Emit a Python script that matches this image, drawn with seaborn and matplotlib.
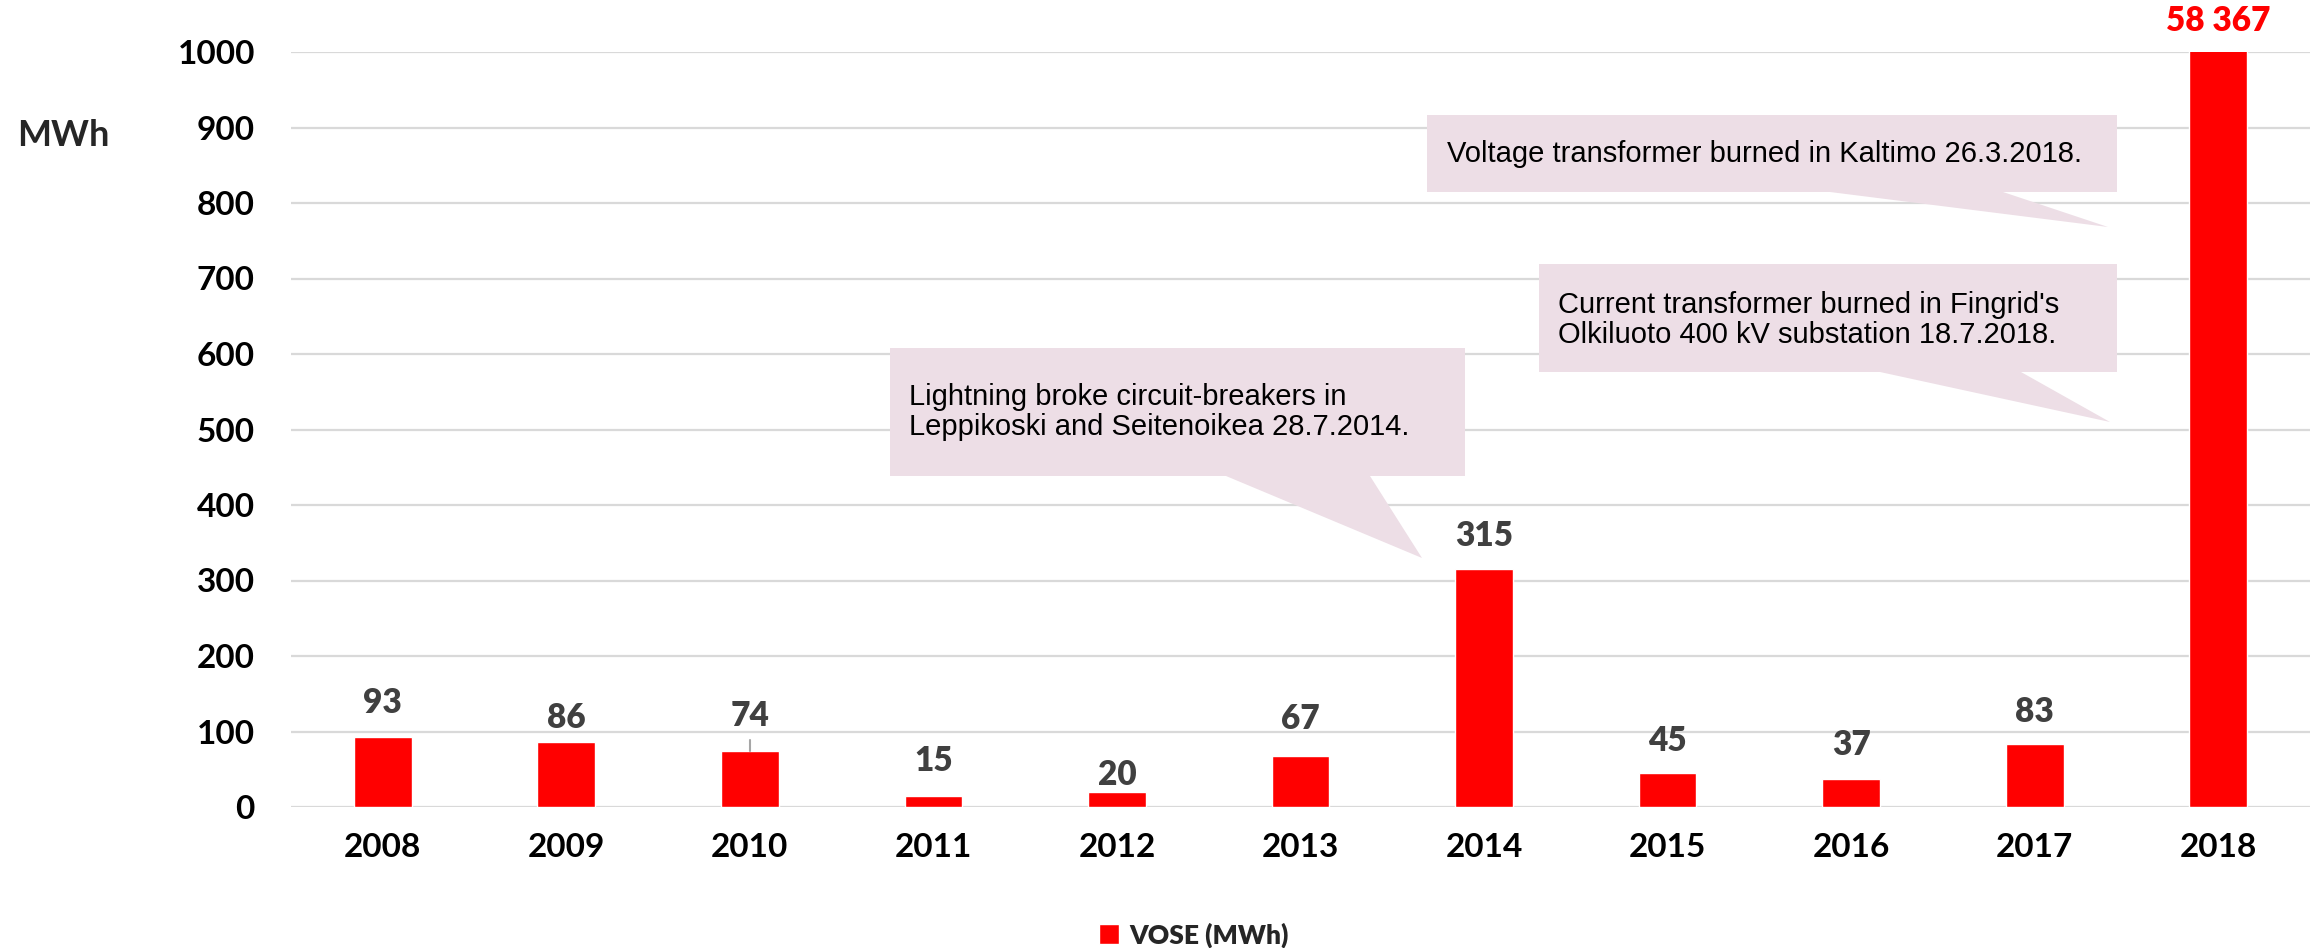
import matplotlib
matplotlib.use("Agg")
import matplotlib.pyplot as plt
from matplotlib.patches import Polygon
import seaborn as sns
import pandas as pd

# ---- data ----
years = ["2008", "2009", "2010", "2011", "2012", "2013", "2014", "2015", "2016", "2017", "2018"]
vose = [93, 86, 74, 15, 20, 67, 315, 45, 37, 83, 58367]
value_labels = ["93", "86", "74", "15", "20", "67", "315", "45", "37", "83", "58 367"]
y_ticks = [0, 100, 200, 300, 400, 500, 600, 700, 800, 900, 1000]
series_name = "VOSE (MWh)"
y_unit = "MWh"
notes = [
    "Voltage transformer burned in Kaltimo 26.3.2018.",
    "Current transformer burned in Fingrid's\nOlkiluoto 400 kV substation 18.7.2018.",
    "Lightning broke circuit-breakers in\nLeppikoski and Seitenoikea 28.7.2014.",
]

# label offsets above bars (points) - styling only
label_offsets = [17, 10, 18, 18, 5, 19.5, 16.5, 16, 17, 16, 0]

W, H = 2318, 948
sns.set_theme(style="white")
plt.rcParams["font.family"] = ["Lato", "DejaVu Sans"]

fig = plt.figure(figsize=(W / 100, H / 100), dpi=100)
ax = fig.add_axes([291 / W, 1 - 807 / H, (2310 - 291) / W, (807 - 52) / H])

df = pd.DataFrame({"year": years, "value": vose})
sns.barplot(data=df, x="year", y="value", color="#FF0000", saturation=1,
            width=0.315, ax=ax, label=series_name)
if ax.get_legend() is not None:
    ax.get_legend().remove()

ax.set_ylim(0, 1000)
ax.set_xlim(-0.5, len(years) - 0.5)
ax.set_yticks(y_ticks)
ax.set_yticklabels([str(t) for t in y_ticks])
ax.set_xlabel("")
ax.set_ylabel("")
ax.yaxis.grid(True, color="#D9D9D9", linewidth=1.6)
ax.set_axisbelow(True)
for s in ax.spines.values():
    s.set_visible(False)
ax.tick_params(axis="both", length=0, labelsize=24, colors="black")
ax.tick_params(axis="y", pad=26)
ax.tick_params(axis="x", pad=19)
for lab in ax.get_xticklabels() + ax.get_yticklabels():
    lab.set_fontweight("bold")

# data labels
for i, (v, txt) in enumerate(zip(vose, value_labels)):
    if v > 1000:
        ax.annotate(txt, xy=(i, 1000), xytext=(0, 15), textcoords="offset points",
                    ha="center", va="baseline", fontsize=24, fontweight="heavy",
                    color="#FF0000", annotation_clip=False)
    else:
        ax.annotate(txt, xy=(i, v), xytext=(0, label_offsets[i]), textcoords="offset points",
                    ha="center", va="baseline", fontsize=24, fontweight="heavy",
                    color="#404040")

# small leader line on 2010 label
ax.plot([2, 2], [vose[2], vose[2] + 15], color="#A6A6A6", lw=1.5, zorder=1)

# y unit label
fig.text(17 / W, 1 - 135 / H, y_unit, ha="left", va="center", fontsize=26, fontweight="bold")

# legend
fig.legend(handles=[ax.containers[0]], labels=[series_name],
           loc="center", bbox_to_anchor=(0.515, 1 - 935 / H), frameon=False,
           prop={"weight": "heavy", "size": 19},
           handlelength=0.75, handleheight=0.75, handletextpad=0.4)


def P(x, y):
    return (x / W, 1 - y / H)


def callout(box, base, tip, text, text_xy):
    x0, y0, x1, y1 = box
    b0, b1 = base
    pts = [P(x0, y0), P(x1, y0), P(x1, y1), P(b1, y1), P(*tip), P(b0, y1), P(x0, y1)]
    fig.patches.append(Polygon(pts, closed=True, facecolor="#EDDEE6", edgecolor="none",
                               transform=fig.transFigure, zorder=5))
    fig.text(*P(*text_xy), text, ha="left", va="center", fontsize=21,
             family=["Liberation Sans", "DejaVu Sans"], color="black",
             linespacing=1.12, zorder=6)


callout((1427, 115, 2117, 192), (1830, 2003), (2108, 227), notes[0], (1447, 154))
callout((1539, 264, 2117, 372), (1880, 2021), (2110, 422), notes[1], (1558, 320))
callout((890, 348, 1465, 476), (1226, 1370), (1422, 558), notes[2], (909, 412))

fig.savefig("out.png", dpi=100, facecolor="white")
